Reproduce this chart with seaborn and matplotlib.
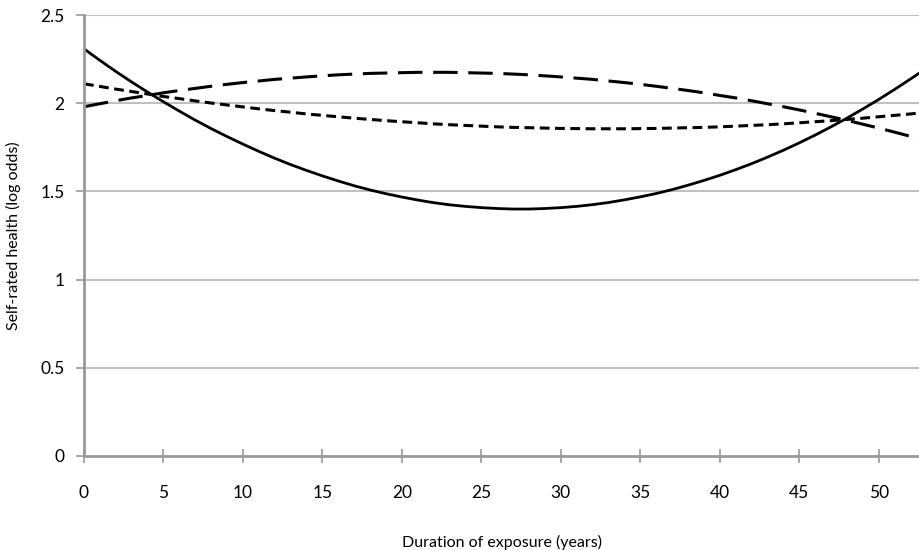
import matplotlib
matplotlib.use("Agg")
import matplotlib.pyplot as plt
import seaborn as sns
import pandas as pd

years = list(range(0, 54))
solid_vals = [2.308, 2.243, 2.180, 2.120, 2.063, 2.008, 1.955, 1.904, 1.856, 1.811,
              1.768, 1.727, 1.688, 1.652, 1.619, 1.588, 1.559, 1.532, 1.508, 1.487,
              1.468, 1.451, 1.436, 1.424, 1.415, 1.408, 1.403, 1.400, 1.400, 1.403,
              1.408, 1.415, 1.425, 1.437, 1.452, 1.469, 1.488, 1.510, 1.535, 1.562,
              1.591, 1.623, 1.657, 1.694, 1.733, 1.775, 1.819, 1.866, 1.915, 1.967,
              2.021, 2.078, 2.137, 2.198]
long_dash_vals = [1.980, 1.997, 2.014, 2.030, 2.044, 2.059, 2.072, 2.084, 2.096, 2.107,
                  2.117, 2.126, 2.135, 2.142, 2.149, 2.155, 2.161, 2.165, 2.169, 2.171,
                  2.173, 2.175, 2.175, 2.175, 2.173, 2.171, 2.169, 2.165, 2.161, 2.155,
                  2.149, 2.142, 2.135, 2.126, 2.117, 2.107, 2.096, 2.084, 2.072, 2.059,
                  2.044, 2.030, 2.014, 1.997, 1.980, 1.962, 1.943, 1.923, 1.903, 1.881,
                  1.859, 1.836, 1.812, 1.788]
short_dash_vals = [2.110, 2.095, 2.080, 2.066, 2.052, 2.038, 2.026, 2.013, 2.001, 1.990,
                   1.979, 1.968, 1.958, 1.949, 1.939, 1.931, 1.923, 1.915, 1.908, 1.901,
                   1.895, 1.889, 1.883, 1.878, 1.874, 1.870, 1.866, 1.863, 1.861, 1.859,
                   1.857, 1.856, 1.855, 1.855, 1.855, 1.856, 1.857, 1.859, 1.861, 1.863,
                   1.866, 1.870, 1.874, 1.878, 1.883, 1.889, 1.895, 1.901, 1.908, 1.915,
                   1.923, 1.931, 1.939, 1.949]
y_ticks = [0, 0.5, 1, 1.5, 2, 2.5]
y_tick_labels = ["0", "0.5", "1", "1.5", "2", "2.5"]
x_ticks = [0, 5, 10, 15, 20, 25, 30, 35, 40, 45, 50]

sns.set_theme(style="white")
plt.rcParams['font.family'] = ['Lato', 'DejaVu Sans']

fig = plt.figure(figsize=(9.2, 5.5), dpi=100)
ax = fig.add_axes([84/920, (550-456)/550, 1 - 84/920, (456-15)/550])

df = pd.DataFrame({"x": years, "solid": solid_vals, "long": long_dash_vals, "short": short_dash_vals})

sns.lineplot(data=df, x="x", y="solid", ax=ax, color="black", linewidth=2.0)
l2 = sns.lineplot(data=df, x="x", y="long", ax=ax, color="black", linewidth=2.2).lines[-1]
l2.set_dashes([8, 3.5])
l3 = sns.lineplot(data=df, x="x", y="short", ax=ax, color="black", linewidth=2.2).lines[-1]
l3.set_dashes([3.2, 1.8])

ax.set_xlim(0, 52.6)
ax.set_ylim(0, 2.5)
ax.set_yticks(y_ticks)
ax.set_yticklabels(y_tick_labels)
ax.set_xticks(x_ticks)
ax.set_xticklabels([str(t) for t in x_ticks])

for y in y_ticks[1:]:
    ax.axhline(y, color="#c0c0c0", linewidth=1.5, zorder=0)

for s in ["top", "right"]:
    ax.spines[s].set_visible(False)
for s in ["left", "bottom"]:
    ax.spines[s].set_color("#999999")
    ax.spines[s].set_linewidth(2)

ax.tick_params(axis="y", which="major", direction="out", length=6, width=1.2, color="#999999",
               left=True, labelsize=12.5, pad=8, labelcolor="black")
ax.tick_params(axis="x", which="major", direction="inout", length=10, width=1.2, color="#999999",
               bottom=True, labelsize=12.5, pad=16, labelcolor="black")

ax.set_xlabel("Duration of exposure (years)", fontsize=11.5, labelpad=24, color="black")
ax.set_ylabel("Self-rated health (log odds)", fontsize=11.5, labelpad=14, color="black")

fig.savefig("out.png", dpi=100)
